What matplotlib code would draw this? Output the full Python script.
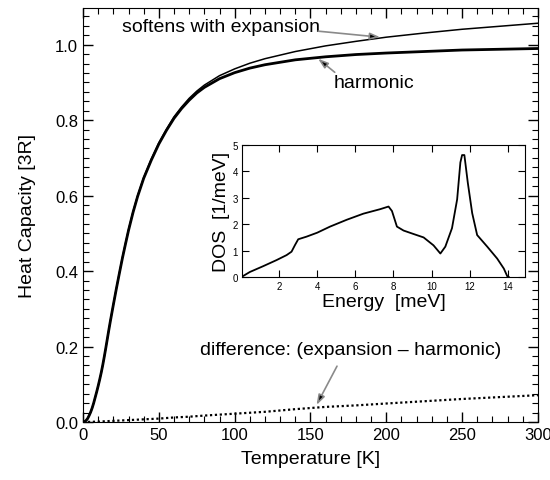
import matplotlib
matplotlib.use("Agg")
import matplotlib.pyplot as plt
from matplotlib.ticker import MultipleLocator, FormatStrFormatter

plt.rcParams['font.family'] = ['Liberation Sans', 'DejaVu Sans']

# ---- data ----
temperature = [0, 1, 2, 3, 4, 5, 6, 7, 8, 9, 10, 11, 12, 13, 14, 15, 16, 17, 18,
               20, 22, 24, 26, 28, 30, 33, 36, 40, 45, 50, 55, 60, 65, 70, 75,
               80, 90, 100, 110, 120, 140, 160, 180, 200, 225, 250, 275, 300]
cv_harmonic = [0, 0.001, 0.004, 0.009, 0.017, 0.026, 0.037, 0.050, 0.065, 0.080,
               0.096, 0.113, 0.131, 0.151, 0.173, 0.196, 0.220, 0.244, 0.267,
               0.311, 0.354, 0.395, 0.435, 0.472, 0.508, 0.556, 0.598, 0.646, 0.694,
               0.737, 0.773, 0.805, 0.831, 0.853, 0.872, 0.887, 0.910, 0.926, 0.938,
               0.947, 0.960, 0.968, 0.974, 0.978, 0.982, 0.986, 0.988, 0.990]
cv_expansion = [0, 0.001, 0.004, 0.009, 0.017, 0.026, 0.037, 0.050, 0.065, 0.080,
                0.096, 0.113, 0.131, 0.151, 0.173, 0.196, 0.220, 0.244, 0.268,
                0.312, 0.355, 0.396, 0.437, 0.474, 0.510, 0.558, 0.600, 0.648, 0.697,
                0.740, 0.776, 0.809, 0.835, 0.858, 0.877, 0.893, 0.918, 0.936, 0.951,
                0.963, 0.982, 0.997, 1.009, 1.020, 1.031, 1.041, 1.049, 1.057]
diff_temperature = [0, 10, 20, 30, 40, 50, 60, 70, 80, 100, 120, 140, 160, 180, 200, 225,
                    250, 275, 300]
cv_difference = [0, 0.001, 0.003, 0.005, 0.007, 0.009, 0.012, 0.014, 0.017, 0.022, 0.027,
                 0.034, 0.040, 0.044, 0.049, 0.055, 0.061, 0.066, 0.071]

energy = [0.02, 0.46, 1.16, 1.86, 2.39, 2.65, 2.83, 3.0, 3.44, 4.0, 4.67, 5.55, 6.42, 7.3,
          7.74, 7.92, 8.18, 8.53, 9.05, 9.58, 10.1, 10.46, 10.72, 11.07, 11.34, 11.51, 11.6,
          11.72, 11.9, 12.13, 12.39, 12.92, 13.44, 13.79, 13.97, 14.05]
dos = [0, 0.19, 0.41, 0.64, 0.83, 0.96, 1.21, 1.43, 1.53, 1.68, 1.91, 2.17, 2.4, 2.57,
       2.67, 2.5, 1.91, 1.76, 1.63, 1.5, 1.2, 0.89, 1.15, 1.85, 2.94, 4.34, 4.62,
       4.62, 3.57, 2.42, 1.59, 1.15, 0.70, 0.32, 0.03, 0]

fig = plt.figure(figsize=(5.5, 4.81), dpi=100)
ax = fig.add_axes([0.151, 0.1206, 0.827, 0.8604])

ax.plot(temperature, cv_harmonic, color='black', lw=2.0)
ax.plot(temperature, cv_expansion, color='black', lw=1.1)
ax.plot(diff_temperature, cv_difference, color='black', lw=1.6, linestyle=(0, (1, 1.2)))

ax.set_xlim(0, 300)
ax.set_ylim(0, 1.097)
ax.xaxis.set_major_locator(MultipleLocator(50))
ax.xaxis.set_minor_locator(MultipleLocator(10))
ax.yaxis.set_major_locator(MultipleLocator(0.2))
ax.yaxis.set_minor_locator(MultipleLocator(0.025))
ax.yaxis.set_major_formatter(FormatStrFormatter('%.1f'))
ax.tick_params(which='both', direction='in', top=True, right=True, labelsize=12)
ax.tick_params(which='major', length=7, width=1)
ax.tick_params(which='minor', length=4, width=0.8)
ax.set_xlabel('Temperature [K]', fontsize=14, labelpad=6)
ax.set_ylabel('Heat Capacity [3R]', fontsize=14, labelpad=14)

arrow = dict(arrowstyle='-|>,head_length=0.6,head_width=0.2', fc='black', ec='#8a8a8a',
             lw=1.2, shrinkA=0, shrinkB=0)
ax.text(25.5, 1.049, 'softens with expansion', fontsize=14, va='center', ha='left')
ax.annotate('', xy=(196, 1.020), xytext=(155, 1.036), arrowprops=arrow)
ax.text(165, 0.90, 'harmonic', fontsize=14, va='center', ha='left')
ax.annotate('', xy=(155, 0.963), xytext=(166, 0.927), arrowprops=arrow)
ax.text(77, 0.193, 'difference: (expansion \u2013 harmonic)', fontsize=14,
        va='center', ha='left')
ax.annotate('', xy=(154, 0.045), xytext=(167.5, 0.148), arrowprops=arrow)

# ---- inset ----
ins = fig.add_axes([0.44, 0.422, 0.5145, 0.2744])
ins.plot(energy, dos, color='black', lw=1.3)
ins.set_xlim(0.05, 14.9)
ins.set_ylim(0, 5)
ins.set_xticks([2, 4, 6, 8, 10, 12, 14])
ins.set_yticks([0, 1, 2, 3, 4, 5])
ins.tick_params(which='both', direction='in', top=True, right=True, labelsize=7,
                length=5, pad=3)
ins.set_xlabel('Energy  [meV]', fontsize=14, labelpad=1)
ins.set_ylabel('DOS  [1/meV]', fontsize=14, labelpad=2)

fig.savefig('out.png', dpi=100)
